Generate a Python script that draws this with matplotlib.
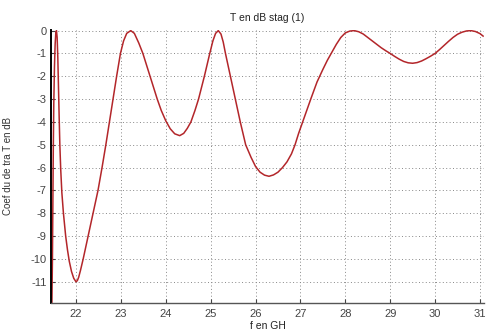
import matplotlib
matplotlib.use("Agg")
import matplotlib.pyplot as plt

freq = [21.46, 21.475, 21.485, 21.495, 21.505, 21.52, 21.535, 21.55, 21.565, 21.58,
        21.595, 21.61, 21.625, 21.64, 21.66, 21.685, 21.72, 21.77, 21.81, 21.85,
        21.9, 21.95, 22.0, 22.03, 22.06, 22.1, 22.16, 22.27, 22.38, 22.49, 22.58,
        22.665, 22.745, 22.825, 22.905, 22.99, 23.06, 23.13, 23.22, 23.3, 23.4,
        23.49, 23.57, 23.65, 23.73, 23.81, 23.9, 24.0, 24.1, 24.2, 24.31,
        24.4, 24.48, 24.56, 24.65, 24.73, 24.86, 24.98, 25.05, 25.11, 25.17,
        25.23, 25.28, 25.33, 25.44, 25.55, 25.66, 25.78, 25.9, 26.0, 26.1,
        26.2, 26.3, 26.4, 26.5, 26.6, 26.7, 26.8, 26.88, 26.96, 27.05,
        27.14, 27.23, 27.37, 27.5, 27.6, 27.7, 27.8, 27.9, 28.0, 28.1,
        28.2, 28.3, 28.4, 28.5, 28.6, 28.7, 28.8, 28.9, 29.0, 29.1,
        29.2, 29.3, 29.4, 29.5, 29.6, 29.7, 29.8, 29.9, 30.0, 30.1,
        30.2, 30.3, 30.4, 30.5, 30.6, 30.7, 30.8, 30.9, 31.0, 31.07]
t_db = [-12.5, -10.0, -7.5, -5.0, -3.2, -1.6, -0.6, -0.1, 0.0, -0.3,
        -1.2, -2.5, -3.8, -5.0, -6.1, -7.1, -8.0, -9.0, -9.6, -10.1,
        -10.55, -10.85, -11.0, -10.95, -10.8, -10.5, -10.0, -9.0, -8.0, -7.0, -6.0,
        -5.0, -4.0, -3.0, -2.0, -1.0, -0.45, -0.12, 0.0, -0.12, -0.55,
        -1.0, -1.5, -2.0, -2.5, -3.0, -3.5, -3.95, -4.3, -4.52, -4.6,
        -4.5, -4.28, -4.0, -3.5, -3.0, -2.0, -1.0, -0.45, -0.12, 0.0,
        -0.15, -0.5, -1.0, -2.0, -3.0, -4.0, -5.0, -5.55, -5.95, -6.2,
        -6.33, -6.38, -6.32, -6.2, -6.0, -5.75, -5.4, -5.0, -4.5, -4.0,
        -3.5, -3.0, -2.25, -1.7, -1.3, -0.95, -0.6, -0.3, -0.1, -0.02,
        0.0, -0.05, -0.15, -0.3, -0.45, -0.6, -0.75, -0.88, -1.0, -1.13,
        -1.25, -1.35, -1.41, -1.43, -1.4, -1.33, -1.23, -1.12, -1.0, -0.83,
        -0.65, -0.47, -0.3, -0.16, -0.07, -0.015, 0.0, -0.04, -0.13, -0.24]

x_ticks = [22, 23, 24, 25, 26, 27, 28, 29, 30, 31]
y_ticks = [0, -1, -2, -3, -4, -5, -6, -7, -8, -9, -10, -11]

plt.rcParams['font.family'] = ['Liberation Sans', 'DejaVu Sans']

fig = plt.figure(figsize=(4.86, 3.31), dpi=100)
ax = fig.add_axes([51/486, 1-303/331, (484-51)/486, (303-29.7)/331])

ax.plot(freq, t_db, color='#b3262a', linewidth=1.1)

ax.set_xlim(21.443, 31.09)
ax.set_ylim(-11.93, 0.04)
ax.set_xticks(x_ticks)
ax.set_yticks(y_ticks)
ax.set_xticklabels([str(v) for v in x_ticks])
ax.set_yticklabels([str(v) for v in y_ticks])
ax.grid(True, linestyle=(0, (1, 2.5)), color='#888888', linewidth=0.7)
ax.tick_params(direction='in', length=3, labelsize=8, colors='#444444', pad=3)
ax.tick_params(axis='x', pad=4)
for s in ['top', 'right']:
    ax.spines[s].set_visible(False)
ax.spines['left'].set_color('black')
ax.spines['left'].set_linewidth(1.4)
ax.spines['bottom'].set_color('#555555')
ax.spines['bottom'].set_linewidth(1.0)

ax.set_title('T en dB stag (1)', fontsize=7.5, color='#222222', pad=6)
ax.set_xlabel('f en GH', fontsize=7.5, color='#222222', labelpad=1.5)
ax.set_ylabel('Coef du de tra T en dB', fontsize=7, color='#333333', labelpad=13)

fig.savefig('out.png', dpi=100)
